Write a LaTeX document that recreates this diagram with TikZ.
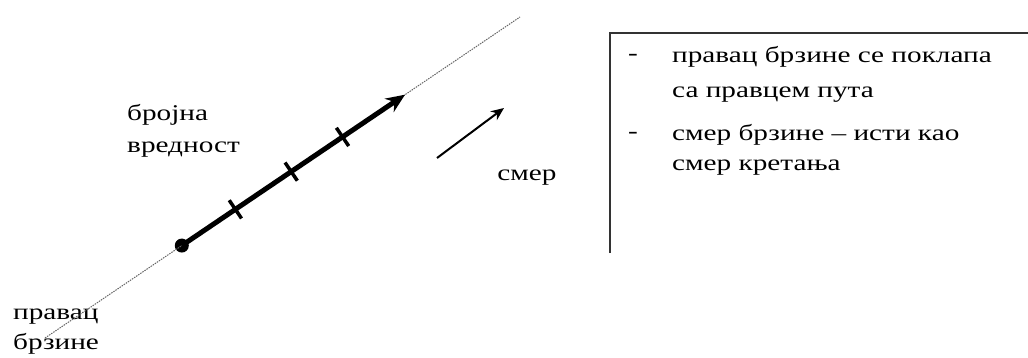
\documentclass[tikz,border=0pt]{standalone}
\usepackage{fontspec}
\setmainfont{Liberation Serif}[FakeStretch=1.3]
\usetikzlibrary{calc,arrows.meta}

\begin{document}
\begin{tikzpicture}[x=1pt, y=1pt]
            \useasboundingbox (0, 0) rectangle (1028, 357);
            {
                \tikzset{every node/.style = {font=\fontsize{22.5}{26}\selectfont, inner sep=0pt}}

                \coordinate (lowend) at (45, 19);
                \coordinate (highend) at (520, 340);
                \coordinate (tip) at ($(lowend)!0.758!(highend)$);
                \node[shape=circle, fill, minimum size=14pt] (dot) at ($(lowend)!0.288!(highend)$) {};

                \coordinate (sfrom) at (437, 199);
                \coordinate (sto) at (504, 249);

                \node[anchor=base west] (broj) at (127, 237) {бројна};
                \node[anchor=base west] (vred) at (127, 205) {вредност};
                \node (smer) at (527, 179) {смер};
                \node[anchor=west] (prav) at (13, 40) {правац};
                \node[anchor=west] (brz) at (13, 13) {брзине};

                \node (dasha) at (633, 300) {-};
                \node[anchor=west] (itema) at (672, 300) {правац брзине се поклапа};
                \node[anchor=west] (itemb) at (672, 262) {са правцем пута};
                \node (dashb) at (633, 222) {-};
                \node[anchor=west] (itemc) at (672, 222) {смер брзине -- исти као};
                \node[anchor=west] (itemd) at (672, 189) {смер кретања};
            }

            % the line of motion, dotted
            \draw[black!60, line width=1pt, dash pattern=on 1.5pt off 1pt] (lowend) -- (highend);

            % the velocity vector with its scale marks
            \draw[line width=5pt, -{Stealth[length=19pt, width=16pt]}] (dot.center) -- (tip);
            \foreach \t in {0.24, 0.49, 0.72} {
                \draw[line width=3.5pt] ($($(dot.center)!\t!(tip)$)!11pt!90:(tip)$)
                    -- ($($(dot.center)!\t!(tip)$)!11pt!-90:(tip)$);
            }

            % direction
            \draw[line width=2pt, -{Stealth[length=13pt, width=11pt]}] (sfrom) -- (sto);

            % the frame round the notes
            \draw[line width=2pt, black!80] (610, 104) -- (610, 324) -- (1028, 324);

        \end{tikzpicture}
\end{document}
